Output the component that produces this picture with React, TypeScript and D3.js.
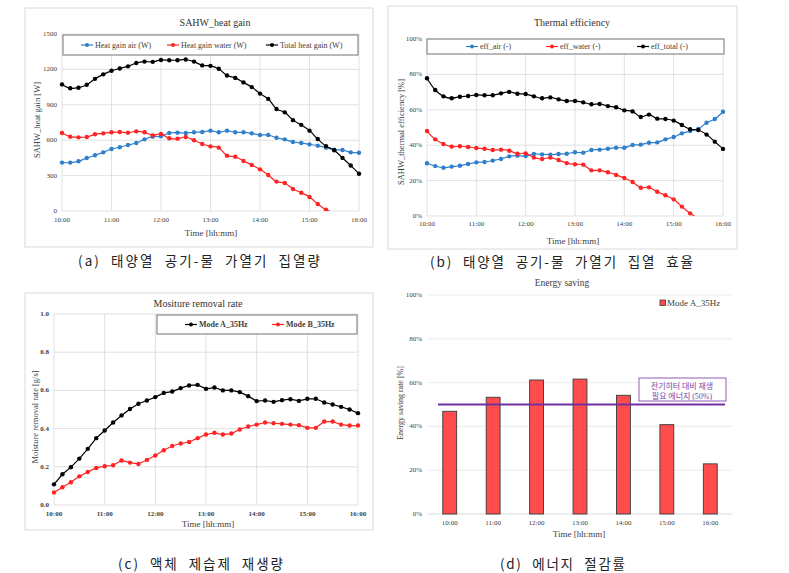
import React from 'react';
import * as d3 from 'd3';

const times = [
  '10:00','10:10','10:20','10:30','10:40','10:50',
  '11:00','11:10','11:20','11:30','11:40','11:50',
  '12:00','12:10','12:20','12:30','12:40','12:50',
  '13:00','13:10','13:20','13:30','13:40','13:50',
  '14:00','14:10','14:20','14:30','14:40','14:50',
  '15:00','15:10','15:20','15:30','15:40','15:50',
  '16:00',
];
const hourTicks = ['10:00', '11:00', '12:00', '13:00', '14:00', '15:00', '16:00'];

// (a) heat gain [W]
const heatAir = [410, 410, 421, 449, 472, 497, 525, 540, 559, 576, 607, 630, 633, 661, 664, 661, 667, 669, 681, 667, 681, 667, 667, 658, 644, 644, 621, 607, 585, 576, 565, 554, 537, 520, 517, 497, 494];
const heatWater = [661, 630, 624, 627, 650, 658, 667, 669, 664, 675, 667, 641, 653, 616, 613, 627, 599, 568, 548, 537, 469, 460, 424, 390, 353, 305, 249, 237, 186, 155, 119, 59, 10, -15];
const heatTotal = [1073, 1040, 1045, 1070, 1120, 1158, 1188, 1208, 1226, 1254, 1266, 1264, 1280, 1278, 1278, 1284, 1266, 1234, 1230, 1205, 1148, 1128, 1090, 1050, 995, 950, 865, 836, 770, 730, 681, 610, 550, 515, 450, 385, 316];
const heatTicks = [0, 300, 600, 900, 1200, 1500];

// (b) thermal efficiency [%]
const effAir = [29.8, 28.2, 27.3, 27.9, 28.4, 29.4, 30.3, 30.5, 31.3, 32.2, 33.7, 34.1, 33.9, 35.0, 34.8, 34.7, 35.0, 35.2, 36.0, 35.8, 37.3, 37.5, 38.0, 38.6, 38.6, 40.1, 40.3, 41.4, 41.6, 43.3, 44.6, 46.7, 48.0, 49.2, 52.7, 54.8, 58.9];
const effWater = [48.0, 43.3, 40.7, 39.2, 39.4, 39.0, 38.4, 38.0, 37.3, 37.5, 36.9, 35.2, 35.4, 33.0, 32.2, 33.0, 31.6, 29.9, 29.2, 29.0, 25.8, 25.8, 24.7, 23.2, 21.5, 19.2, 16.0, 16.2, 13.7, 11.7, 9.4, 5.3, 1.5, -1.5];
const effTotal = [77.8, 71.2, 67.6, 66.5, 67.4, 67.8, 68.4, 68.2, 68.2, 69.3, 70.1, 69.1, 68.9, 67.6, 66.5, 67.0, 65.9, 65.0, 65.0, 64.2, 63.1, 63.3, 62.1, 61.4, 59.7, 59.1, 55.9, 57.3, 55.0, 54.8, 53.9, 51.4, 49.0, 48.6, 46.0, 42.0, 37.9];
const effTicks = [0, 20, 40, 60, 80, 100];

// (c) moisture removal rate [g/s]
const modeA = [0.108, 0.161, 0.198, 0.243, 0.294, 0.350, 0.390, 0.432, 0.469, 0.503, 0.530, 0.547, 0.565, 0.587, 0.594, 0.612, 0.626, 0.629, 0.608, 0.615, 0.600, 0.600, 0.591, 0.570, 0.544, 0.547, 0.540, 0.549, 0.554, 0.545, 0.556, 0.556, 0.537, 0.526, 0.514, 0.500, 0.481];
const modeB = [0.066, 0.093, 0.119, 0.150, 0.173, 0.194, 0.203, 0.208, 0.233, 0.222, 0.215, 0.236, 0.259, 0.287, 0.309, 0.322, 0.330, 0.350, 0.369, 0.378, 0.369, 0.374, 0.395, 0.411, 0.421, 0.432, 0.428, 0.425, 0.421, 0.418, 0.404, 0.404, 0.437, 0.437, 0.421, 0.416, 0.416];
const moistTicks = [0, 0.2, 0.4, 0.6, 0.8, 1.0];

// (d) energy saving [%]
const savingCats = hourTicks;
const savingVals = [46.9, 53.3, 61.2, 61.6, 54.2, 40.8, 22.9];
const savingTicks = [0, 20, 40, 60, 80, 100];
const savingRef = 50;

const captions = [
  '(a) 태양열 공기-물 가열기 집열량',
  '(b) 태양열 공기-물 가열기 집열 효율',
  '(c) 액체 제습제 재생량',
  '(d) 에너지 절감률',
];

const FONT = "'Liberation Serif', 'Times New Roman', serif";
const KFONT = "'Noto Sans CJK KR', sans-serif";
const BLUE = '#2f7fcb';
const RED = '#ff2323';
const BLACK = '#000000';
const GRID = '#d9d9d9';

const toMin = (t: string) => {
  const [h, m] = t.split(':').map(Number);
  return (h - 10) * 60 + m;
};

type Series = { name: string; values: number[]; color: string };
type Cfg = {
  id: string;
  frame: [number, number, number, number];
  x0: number; x1: number; yTop: number; yBottom: number;
  yDomain: [number, number]; yTicks: number[]; yFmt: (d: number) => string; yTickX: number;
  xTickY: number;
  title: string; titleX: number; titleY: number;
  xTitleX: number; xTitleY: number;
  yTitle: string; yTitleX: number; yTitleY: number;
  legendBox: [number, number, number, number]; legendXs: number[];
  series: Series[]; smooth: boolean; bold: boolean;
};

function LinePanel({ c }: { c: Cfg }) {
  const x = d3.scaleLinear().domain([0, 360]).range([c.x0, c.x1]);
  const y = d3.scaleLinear().domain(c.yDomain).range([c.yBottom, c.yTop]);
  const fw = c.bold ? 'bold' : 'normal';
  const line = d3.line<number>()
    .x((_, i) => x(toMin(times[i])))
    .y((d) => y(d))
    .curve(c.smooth ? d3.curveCatmullRom.alpha(0.5) : d3.curveLinear);
  const [lx0, ly0, lx1, ly1] = c.legendBox;
  const ly = (ly0 + ly1) / 2;
  return (
    <g>
      <rect x={c.frame[0]} y={c.frame[1]} width={c.frame[2]} height={c.frame[3]} fill="#fff" stroke={GRID} strokeWidth={1} />
      <defs>
        <clipPath id={`clip-${c.id}`}>
          <rect x={c.x0 - 4} y={c.yTop - 4} width={c.x1 - c.x0 + 8} height={c.yBottom - c.yTop + 4} />
        </clipPath>
      </defs>
      {c.yTicks.map((t) => (
        <line key={'h' + t} x1={c.x0} x2={c.x1} y1={y(t)} y2={y(t)} stroke={GRID} strokeWidth={0.8} />
      ))}
      {hourTicks.map((t) => (
        <line key={'v' + t} x1={x(toMin(t))} x2={x(toMin(t))} y1={c.yTop} y2={c.yBottom} stroke={GRID} strokeWidth={0.8} />
      ))}
      {c.yTicks.map((t) => (
        <text key={'yt' + t} x={c.yTickX} y={y(t)} textAnchor="end" dominantBaseline="central" fontSize={7} fontFamily={FONT} fontWeight={fw} fill="#404040">{c.yFmt(t)}</text>
      ))}
      {hourTicks.map((t) => (
        <text key={'xt' + t} x={x(toMin(t))} y={c.xTickY} textAnchor="middle" dominantBaseline="central" fontSize={7} fontFamily={FONT} fontWeight={fw} fill="#404040">{t}</text>
      ))}
      <text x={c.titleX} y={c.titleY} textAnchor="middle" dominantBaseline="central" fontSize={10} fontFamily={FONT} fill="#333">{c.title}</text>
      <text x={c.xTitleX} y={c.xTitleY} textAnchor="middle" dominantBaseline="central" fontSize={9} fontFamily={FONT} fill="#404040">Time [hh:mm]</text>
      <text transform={`translate(${c.yTitleX},${c.yTitleY}) rotate(-90)`} textAnchor="middle" dominantBaseline="central" fontSize={8.5} fontFamily={FONT} fill="#404040">{c.yTitle}</text>
      <g clipPath={`url(#clip-${c.id})`}>
        {c.series.map((s) => (
          <g key={s.name}>
            <path d={line(s.values) || ''} fill="none" stroke={s.color} strokeWidth={1.2} />
            {s.values.map((v, i) => (
              v >= c.yDomain[0] ? <circle key={i} cx={x(toMin(times[i]))} cy={y(v)} r={2.2} fill={s.color} /> : null
            ))}
          </g>
        ))}
      </g>
      <rect x={lx0} y={ly0} width={lx1 - lx0} height={ly1 - ly0} fill="#fff" stroke="#7f7f7f" strokeWidth={1.1} />
      {c.series.map((s, i) => (
        <g key={'lg' + s.name}>
          <line x1={c.legendXs[i]} x2={c.legendXs[i] + 12} y1={ly} y2={ly} stroke={s.color} strokeWidth={1.2} />
          <circle cx={c.legendXs[i] + 6} cy={ly} r={2} fill={s.color} />
          <text x={c.legendXs[i] + 14} y={ly} dominantBaseline="central" fontSize={8} fontFamily={FONT} fontWeight={fw} fill="#404040">{s.name}</text>
        </g>
      ))}
    </g>
  );
}

const cfgA: Cfg = {
  id: 'a', frame: [25, 8, 348, 239],
  x0: 62, x1: 359, yTop: 34, yBottom: 211,
  yDomain: [0, 1500], yTicks: heatTicks, yFmt: (d) => String(d), yTickX: 57,
  xTickY: 220, title: 'SAHW_heat gain', titleX: 215, titleY: 22,
  xTitleX: 211, xTitleY: 233, yTitle: 'SAHW_heat gain [W]', yTitleX: 37, yTitleY: 120,
  legendBox: [63, 35, 358, 55], legendXs: [81, 167, 266],
  series: [
    { name: 'Heat gain air (W)', values: heatAir, color: BLUE },
    { name: 'Heat gain water (W)', values: heatWater, color: RED },
    { name: 'Total heat gain (W)', values: heatTotal, color: BLACK },
  ],
  smooth: true, bold: false,
};

const cfgB: Cfg = {
  id: 'b', frame: [388, 6, 349, 243],
  x0: 427, x1: 723, yTop: 39, yBottom: 216,
  yDomain: [0, 100], yTicks: effTicks, yFmt: (d) => `${d}%`, yTickX: 422,
  xTickY: 224, title: 'Thermal efficiency', titleX: 572, titleY: 22,
  xTitleX: 573, xTitleY: 241, yTitle: 'SAHW_thermal efficiency [%]', yTitleX: 401, yTitleY: 132,
  legendBox: [427, 39, 724, 54], legendXs: [466, 546, 637],
  series: [
    { name: 'eff_air (-)', values: effAir, color: BLUE },
    { name: 'eff_water (-)', values: effWater, color: RED },
    { name: 'eff_total (-)', values: effTotal, color: BLACK },
  ],
  smooth: true, bold: false,
};

const cfgC: Cfg = {
  id: 'c', frame: [25, 293, 348, 237],
  x0: 54, x1: 358, yTop: 314, yBottom: 505,
  yDomain: [0, 1], yTicks: moistTicks, yFmt: (d) => d.toFixed(1), yTickX: 49,
  xTickY: 514, title: 'Mositure removal rate', titleX: 198, titleY: 303,
  xTitleX: 208, xTitleY: 524, yTitle: 'Moisture removal rate [g/s]', yTitleX: 35, yTitleY: 417,
  legendBox: [157, 315, 357, 334], legendXs: [185, 272],
  series: [
    { name: 'Mode A_35Hz', values: modeA, color: BLACK },
    { name: 'Mode B_35Hz', values: modeB, color: RED },
  ],
  smooth: false, bold: true,
};

function BarPanel() {
  const x = d3.scaleBand<string>().domain(savingCats).range([428, 732]).paddingInner(0.68).paddingOuter(0.34);
  const y = d3.scaleLinear().domain([0, 100]).range([514, 295]);
  return (
    <g>
      {savingTicks.map((t) => (
        <line key={'g' + t} x1={428} x2={732} y1={y(t)} y2={y(t)} stroke={t === 0 ? '#d0d0d0' : '#e6e6e6'} strokeWidth={0.8} />
      ))}
      {savingTicks.map((t) => (
        <text key={'yt' + t} x={422} y={y(t)} textAnchor="end" dominantBaseline="central" fontSize={7} fontFamily={FONT} fill="#404040">{`${t}%`}</text>
      ))}
      {savingCats.map((c) => (
        <text key={'xt' + c} x={(x(c) || 0) + x.bandwidth() / 2} y={523} textAnchor="middle" dominantBaseline="central" fontSize={7} fontFamily={FONT} fill="#404040">{c}</text>
      ))}
      {savingCats.map((c, i) => (
        <rect key={'b' + c} x={x(c)} y={y(savingVals[i])} width={x.bandwidth()} height={y(0) - y(savingVals[i])} fill="#ff4c4c" stroke="#3a3a3a" strokeWidth={0.9} />
      ))}
      <text x={562} y={283} textAnchor="middle" dominantBaseline="central" fontSize={9.5} fontFamily={FONT} fill="#404040">Energy saving</text>
      <text x={579} y={534} textAnchor="middle" dominantBaseline="central" fontSize={9} fontFamily={FONT} fill="#404040">Time [hh:mm]</text>
      <text transform="translate(400,403) rotate(-90)" textAnchor="middle" dominantBaseline="central" fontSize={8} fontFamily={FONT} fill="#404040">Energy saving rate [%]</text>
      <rect x={660} y={300} width={5.5} height={5.5} fill="#ff4c4c" stroke="#3a3a3a" strokeWidth={0.8} />
      <text x={667} y={303} dominantBaseline="central" fontSize={9} fontFamily={FONT} fill="#404040">Mode A_35Hz</text>
      <line x1={438} x2={725} y1={y(savingRef)} y2={y(savingRef)} stroke="#7030a0" strokeWidth={2} />
      <rect x={639} y={378} width={87} height={23} fill="#fff" stroke="#8e5cb5" strokeWidth={1} />
      <text x={682} y={385} textAnchor="middle" dominantBaseline="central" fontSize={8} fontFamily={KFONT} fill="#7a45a8">전기히터 대비 재생</text>
      <text x={682} y={395.5} textAnchor="middle" dominantBaseline="central" fontSize={8} fontFamily={KFONT} fill="#7a45a8">
        필요 에너지 <tspan fontFamily={FONT}>(50%)</tspan>
      </text>
    </g>
  );
}

const captionPos: [number, number, number][] = [
  [78, 260, 242],
  [430, 261, 263],
  [118, 563, 165],
  [500, 563, 125],
];

export default function App() {
  return (
    <svg width={789} height={573} style={{ position: 'absolute', left: 0, top: 0, background: '#fff' }}>
      <rect x={0} y={0} width={789} height={573} fill="#fff" />
      <LinePanel c={cfgA} />
      <LinePanel c={cfgB} />
      <LinePanel c={cfgC} />
      <BarPanel />
      {captions.map((t, i) => (
        <text key={t} x={captionPos[i][0]} y={captionPos[i][1]} dominantBaseline="central" fontSize={13.5} fontFamily={KFONT} fill="#222" textLength={captionPos[i][2]} lengthAdjust="spacing" style={{ wordSpacing: '5px' }}>{t}</text>
      ))}
    </svg>
  );
}
